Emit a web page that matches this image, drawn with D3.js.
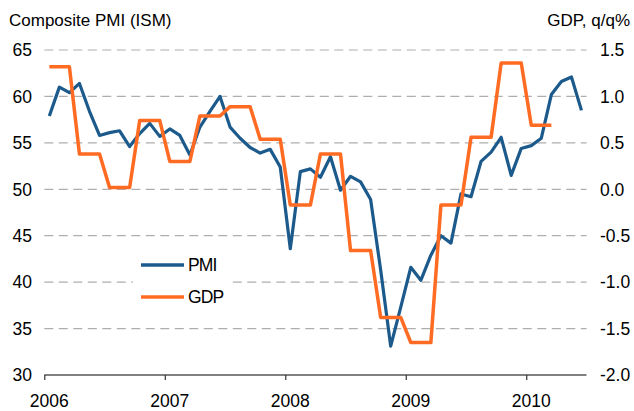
<!DOCTYPE html>
<html>
<head>
<meta charset="utf-8">
<script src="https://cdn.jsdelivr.net/npm/d3@7"></script>
<style>
  body { margin: 0; background: #fff; }
  svg { font-family: "Liberation Sans", Arial, sans-serif; }
</style>
</head>
<body>
<svg id="chart" width="634" height="411"></svg>
<script>
// Monthly composite PMI, Jan 2006 - Jun 2010
const pmi = [
  57.9, 61.0, 60.4, 61.4, 58.4, 55.8, 56.1, 56.3, 54.6, 56.0, 57.1, 55.7,
  56.5, 55.8, 53.7, 56.7, 58.4, 60.0, 56.7, 55.5, 54.5, 53.9, 54.3, 52.4,
  43.6, 51.9, 52.2, 51.3, 53.5, 49.9, 51.4, 50.8, 48.9, 41.3, 33.1, 37.3,
  41.6, 40.2, 42.9, 45.0, 44.2, 49.5, 49.2, 53.0, 54.0, 55.6, 51.5, 54.4,
  54.7, 55.5, 60.2, 61.6, 62.1, 58.5
];
// Quarterly GDP q/q%, Q1 2006 - Q1 2010
const gdp = [1.32, 0.38, 0.02, 0.74, 0.30, 0.79, 0.89, 0.54, -0.17, 0.38,
             -0.66, -1.38, -1.65, -0.17, 0.56, 1.36, 0.69];
const years = ['2006', '2007', '2008', '2009', '2010'];
const leftTicks = [30, 35, 40, 45, 50, 55, 60, 65];
const rightTicks = [-2.0, -1.5, -1.0, -0.5, 0.0, 0.5, 1.0, 1.5];

const svg = d3.select('#chart');

// month index scale, points sit in the middle of each month
const x = d3.scaleLinear().domain([-0.5, 53.5]).range([44.3, 586.5]);
const yL = d3.scaleLinear().domain([30, 65]).range([375, 50]);
const yR = d3.scaleLinear().domain([-2, 1.5]).range([375, 50]);

// gridlines
svg.append('g')
  .selectAll('line')
  .data(leftTicks.filter(d => d > 30))
  .join('line')
  .attr('x1', x.range()[0])
  .attr('x2', x.range()[1])
  .attr('y1', d => yL(d))
  .attr('y2', d => yL(d))
  .attr('stroke', '#aeaeae')
  .attr('stroke-width', 1.2)
  .attr('stroke-dasharray', '9,5.5');

// left labels
svg.append('g')
  .selectAll('text')
  .data(leftTicks)
  .join('text')
  .attr('x', 32)
  .attr('y', d => yL(d))
  .attr('dy', '0.36em')
  .attr('text-anchor', 'end')
  .attr('font-size', 17.5)
  .attr('fill', '#000')
  .text(d => d);

// right labels (plain hyphen for negatives, as in the original)
svg.append('g')
  .selectAll('text')
  .data(rightTicks)
  .join('text')
  .attr('x', 600)
  .attr('y', d => yR(d))
  .attr('dy', '0.36em')
  .attr('text-anchor', 'start')
  .attr('font-size', 17.5)
  .attr('fill', '#000')
  .text(d => d.toFixed(1));

// x axis
const xAxis = d3.axisBottom(x)
  .tickValues(years.map((d, i) => i * 12 - 0.5))
  .tickSize(5)
  .tickFormat('');
const ax = svg.append('g').attr('transform', 'translate(0,375)').call(xAxis);
ax.select('.domain').attr('stroke', '#808080').attr('stroke-width', 2.2).attr('d', `M${x.range()[0]},0H${x.range()[1]}`);
ax.selectAll('.tick line').attr('stroke', '#333').attr('stroke-width', 1.2);

svg.append('g')
  .selectAll('text')
  .data(years)
  .join('text')
  .attr('x', (d, i) => x(i * 12))
  .attr('y', 407)
  .attr('text-anchor', 'middle')
  .attr('font-size', 17.5)
  .text(d => d);

// axis titles
svg.append('text').attr('x', 9).attr('y', 26).attr('font-size', 17).text('Composite PMI (ISM)');
svg.append('text').attr('x', 630).attr('y', 26).attr('text-anchor', 'end').attr('font-size', 17).text('GDP, q/q%');

// legend background covers the gridline behind it
const leg = svg.append('g');
leg.append('rect').attr('x', 133).attr('y', 246).attr('width', 98).attr('height', 68).attr('fill', '#fff');

// series
const blue = '#1c5a8c';
const orange = '#ff6b22';

const pmiLine = d3.line().x((d, i) => x(i)).y(d => yL(d));
svg.append('path')
  .datum(pmi)
  .attr('d', pmiLine)
  .attr('fill', 'none')
  .attr('stroke', blue)
  .attr('stroke-width', 3.2)
  .attr('stroke-linejoin', 'round');

// each quarterly value is held for its three months
const gdpMonthly = gdp.flatMap(v => [v, v, v]);
const gdpLine = d3.line().x((d, i) => x(i)).y(d => yR(d));
svg.append('path')
  .datum(gdpMonthly)
  .attr('d', gdpLine)
  .attr('fill', 'none')
  .attr('stroke', orange)
  .attr('stroke-width', 3.5)
  .attr('stroke-linejoin', 'round');

// legend
const items = [{ name: 'PMI', color: blue, y: 265 }, { name: 'GDP', color: orange, y: 297 }];
items.forEach(it => {
  leg.append('line')
    .attr('x1', 141).attr('x2', 184)
    .attr('y1', it.y).attr('y2', it.y)
    .attr('stroke', it.color).attr('stroke-width', 3.5);
  leg.append('text')
    .attr('x', 188).attr('y', it.y).attr('dy', '0.36em')
    .attr('font-size', 17.5)
    .attr('letter-spacing', -0.9)
    .text(it.name);
});
</script>
</body>
</html>
